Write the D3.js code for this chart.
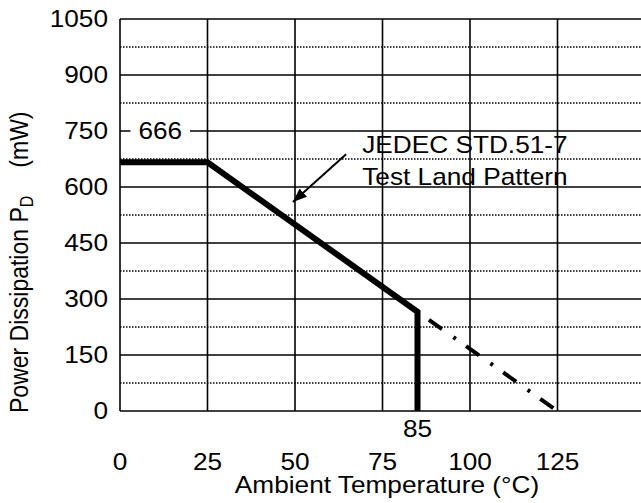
<!DOCTYPE html>
<html>
<head>
<meta charset="utf-8">
<script src="https://cdn.jsdelivr.net/npm/d3@7"></script>
<style>
  body { margin: 0; background: #fff; }
  text { font-family: Arial, "Liberation Sans", sans-serif; fill: #000; }
</style>
</head>
<body>
<div id="chart"></div>
<script>
// derating curve values
const ratedTemp = [0, 25, 85, 85];
const ratedPower = [666, 666, 266, 0];
const extTemp = [85, 125];
const extPower = [266, 0];

const xTicks = [0, 25, 50, 75, 100, 125];
const xGrid = [25, 50, 75, 100, 125, 150];
const yTicks = [0, 150, 300, 450, 600, 750, 900, 1050];
const yMinor = [75, 225, 375, 525, 675, 825, 975];

const peakLabel = "666";
const cutoffLabel = "85";
const noteLines = ["JEDEC STD.51-7", "Test Land Pattern"];

const W = 641, H = 503;
const fs = 23, stretch = 1.14;

const x = d3.scaleLinear().domain([0, 150]).range([120, 645]);
const y = d3.scaleLinear().domain([0, 1050]).range([411, 19]);

const svg = d3.select("#chart").append("svg")
    .attr("width", W)
    .attr("height", H);

svg.append("defs").append("marker")
    .attr("id", "head")
    .attr("markerUnits", "userSpaceOnUse")
    .attr("viewBox", "0 0 14 11")
    .attr("refX", 14).attr("refY", 5.5)
    .attr("markerWidth", 14).attr("markerHeight", 11)
    .attr("orient", "auto")
    .append("path")
    .attr("d", "M0,0 L14,5.5 L0,11 Z")
    .attr("fill", "#000");

// dotted minor grid
svg.append("g").selectAll("line")
    .data(yMinor)
    .join("line")
    .attr("x1", x(0)).attr("x2", W)
    .attr("y1", d => y(d)).attr("y2", d => y(d))
    .attr("stroke", "#000")
    .attr("stroke-width", 1.3)
    .attr("stroke-dasharray", "1.5,1.5");

// solid grid
svg.append("g").selectAll("line")
    .data(yTicks)
    .join("line")
    .attr("x1", x(0)).attr("x2", W)
    .attr("y1", d => y(d)).attr("y2", d => y(d))
    .attr("stroke", "#000")
    .attr("stroke-width", 1.6);

svg.append("g").selectAll("line")
    .data([0].concat(xGrid))
    .join("line")
    .attr("x1", d => x(d)).attr("x2", d => x(d))
    .attr("y1", y(0)).attr("y2", y(1050))
    .attr("stroke", "#000")
    .attr("stroke-width", 1.6);

function label(sel, px, py, str, anchor) {
    const g = sel.append("g")
        .attr("transform", `translate(${px},${py}) scale(${stretch},1)`);
    return g.append("text")
        .attr("text-anchor", anchor || "middle")
        .style("font-size", fs + "px")
        .text(str);
}

// y tick labels
yTicks.forEach(v => label(svg, 108, y(v) + 8, v, "end"));
// x tick labels
xTicks.forEach(v => label(svg, x(v), 470, v));

// 666 label, sitting on the 750 gridline
svg.append("rect")
    .attr("x", x(3)).attr("y", y(750) - 8)
    .attr("width", x(20) - x(3)).attr("height", 16)
    .attr("fill", "#fff");
label(svg, x(11.5), y(750) + 8, peakLabel);

// 85 label
label(svg, x(85), 437, cutoffLabel);

// axis titles
label(svg, 387, 493, "Ambient Temperature (\u00B0C)");

const yt = svg.append("g")
    .attr("transform", `translate(28,413) scale(${stretch},1) rotate(-90)`)
    .append("text")
    .attr("text-anchor", "start")
    .style("font-size", fs + "px");
yt.append("tspan").text("Power Dissipation P");
yt.append("tspan").attr("dy", 4).style("font-size", "16px").text("D");
yt.append("tspan").attr("dy", -4).attr("dx", 28).text("(mW)");

// extrapolated derating (dash-dot)
const line = d3.line().x(d => x(d[0])).y(d => y(d[1]));
svg.append("path")
    .attr("d", line(d3.zip(extTemp, extPower)))
    .attr("fill", "none")
    .attr("stroke", "#000")
    .attr("stroke-width", 4)
    .attr("stroke-dasharray", "16,14,3,12.5")
    .attr("stroke-dashoffset", -14);

// rated curve
svg.append("path")
    .attr("d", line(d3.zip(ratedTemp, ratedPower)))
    .attr("fill", "none")
    .attr("stroke", "#000")
    .attr("stroke-width", 6)
    .attr("stroke-linejoin", "miter");

// annotation
svg.append("line")
    .attr("x1", x(64.6)).attr("y1", y(688))
    .attr("x2", x(49.4)).attr("y2", y(560))
    .attr("stroke", "#000")
    .attr("stroke-width", 2)
    .attr("marker-end", "url(#head)");
noteLines.forEach((s, i) => label(svg, x(69.2), y(691) + i * 32, s, "start"));
</script>
</body>
</html>
